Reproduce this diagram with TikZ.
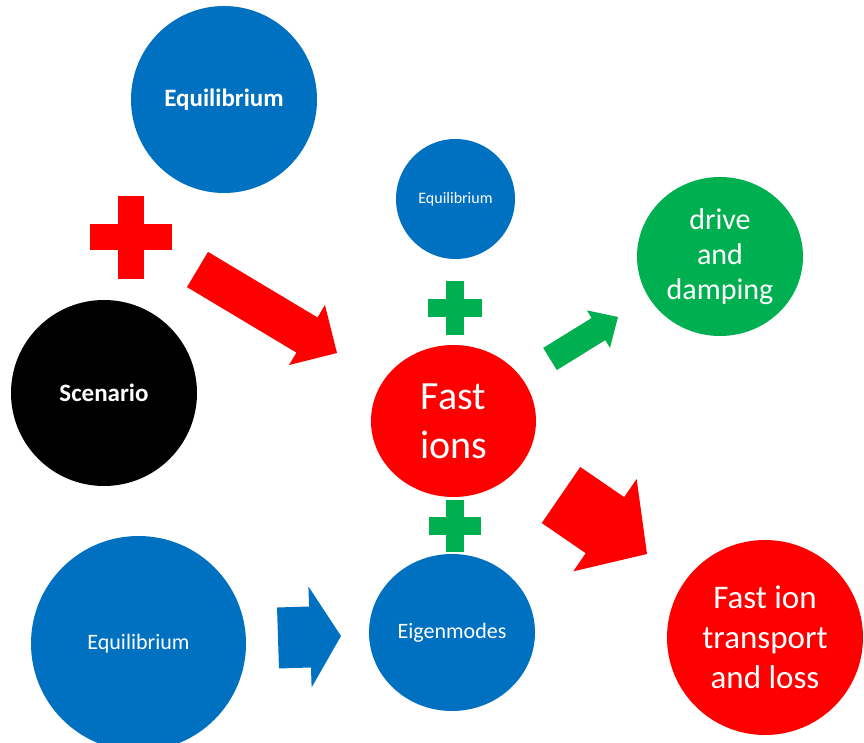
\documentclass[tikz,border=0pt]{standalone}
\usepackage{fontspec}
\setmainfont{Carlito}
\usetikzlibrary{calc, shapes.geometric}

\definecolor{ionblue}{HTML}{0070C0}
\definecolor{ionred}{HTML}{FF0000}
\definecolor{iongreen}{HTML}{00B050}

% block arrow: start, end, half shaft, half head, head length, colour
\newcommand{\blockarrow}[6]{%
  \coordinate (#1-#2) at ($(#2)!#5!(#1)$);
  \fill[#6] ($(#1)!#3!90:(#2)$) -- ($(#1-#2)!#3!90:(#2)$) -- ($(#1-#2)!#4!90:(#2)$) -- (#2)
    -- ($(#1-#2)!#4!-90:(#2)$) -- ($(#1-#2)!#3!-90:(#2)$) -- ($(#1)!#3!-90:(#2)$) -- cycle;
}
% plus sign: centre, half arm, half bar, colour
\newcommand{\plussign}[4]{%
  \fill[#4] ($(#1)+(-#3,-#2)$) rectangle ($(#1)+(#3,#2)$);
  \fill[#4] ($(#1)+(-#2,-#3)$) rectangle ($(#1)+(#2,#3)$);
}

\begin{document}
\begin{tikzpicture}[x=1pt, y=-1pt]

  % Bubble style
  \tikzset{
    bubble/.style={ellipse, inner sep=0pt, text=white, align=center},
  }
  \useasboundingbox (0,0) rectangle (864,743);

  % Left column
  \node[bubble, fill=ionblue, minimum width=186pt, minimum height=187pt,
        font=\fontsize{25}{30}\selectfont\bfseries] (eqtop) at (224,99.5) {Equilibrium};
  \node[bubble, fill=black, minimum width=186pt, minimum height=186pt,
        font=\fontsize{25}{30}\selectfont\bfseries] (scenario) at (104,393) {Scenario};
  \node[bubble, fill=ionblue, minimum width=215pt, minimum height=215pt,
        font=\fontsize{22}{26}\selectfont] (eqbottom) at (138.5,643.5) {Equilibrium};

  % Middle column
  \node[bubble, fill=ionblue, minimum width=119pt, minimum height=120pt,
        font=\fontsize{16}{19}\selectfont] (eqsmall) at (455.5,199) {Equilibrium};
  \node[bubble, fill=ionred, minimum width=165pt, minimum height=152pt,
        font=\fontsize{40}{49}\selectfont] (fastions) at (453.5,421) {Fast\\ions};
  \node[bubble, fill=ionblue, minimum width=166pt, minimum height=157pt,
        font=\fontsize{22}{26}\selectfont] (eigen) at (452,632.5) {Eigenmodes};

  % Right column
  \node[bubble, fill=iongreen, minimum width=166pt, minimum height=159pt,
        font=\fontsize{30}{35}\selectfont] (drive) at (720,256.5) {drive\\and\\damping};
  \node[bubble, fill=ionred, minimum width=196pt, minimum height=195pt,
        font=\fontsize{33}{40}\selectfont] (transport) at (765,637.5) {Fast ion\\transport\\and loss};

  % Pluses
  \coordinate (plusred) at (131,237.5);
  \coordinate (plusup) at (455,308);
  \coordinate (plusdown) at (455,526);
  \plussign{plusred}{41}{13}{ionred}
  \plussign{plusup}{27}{9}{iongreen}
  \plussign{plusdown}{26}{9}{iongreen}

  % Block arrows
  \coordinate (redtail) at (197.5,269.5);
  \coordinate (redtip) at (337,353);
  \coordinate (greentail) at (550,359);
  \coordinate (greentip) at (618,317);
  \coordinate (losstail) at (561,495);
  \coordinate (losstip) at (647,554);
  \coordinate (bluetail) at (278,638);
  \coordinate (bluetip) at (341,636);
  \blockarrow{redtail}{redtip}{20.5pt}{35pt}{35pt}{ionred}
  \blockarrow{greentail}{greentip}{13pt}{22pt}{23pt}{iongreen}
  \blockarrow{losstail}{losstip}{34pt}{56pt}{51pt}{ionred}
  \blockarrow{bluetail}{bluetip}{30.5pt}{50.5pt}{31pt}{ionblue}

\end{tikzpicture}
\end{document}
